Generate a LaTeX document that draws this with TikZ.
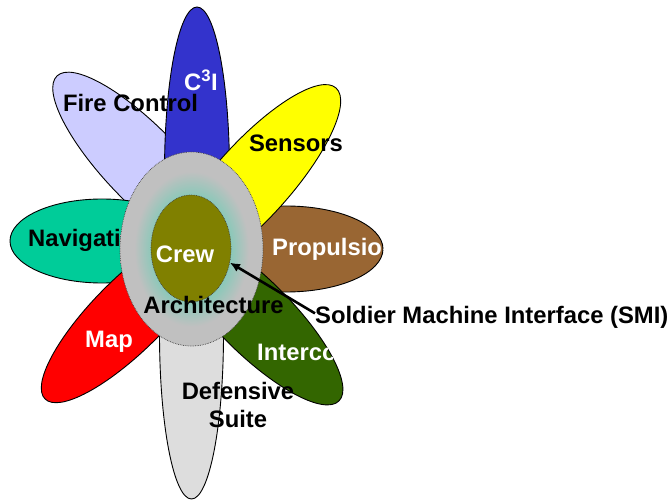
\documentclass[tikz,border=0pt]{standalone}
\usepackage{fontspec}
\setmainfont{Liberation Sans}
\usetikzlibrary{shapes.geometric,arrows.meta}
\definecolor{lav}{HTML}{CCCCFF}
\definecolor{cblue}{HTML}{3333CC}
\definecolor{cyel}{HTML}{FFFF00}
\definecolor{cbrown}{HTML}{996633}
\definecolor{cnav}{HTML}{00CC99}
\definecolor{cred}{HTML}{FF0000}
\definecolor{cdef}{HTML}{DDDDDD}
\definecolor{cint}{HTML}{336600}
\definecolor{crewc}{HTML}{808000}
\definecolor{glow}{RGB}{140,200,185}
\definecolor{ringgray}{RGB}{192,192,192}
\pgfdeclareradialshading{ringshade}{\pgfpoint{0bp}{0bp}}{color(0bp)=(glow); color(14bp)=(glow); color(20bp)=(ringgray); color(50bp)=(ringgray)}
\tikzset{
  petal/.style={ellipse, draw=black, line width=0.9pt, inner sep=0pt, outer sep=0pt},
  lab/.style={font=\fontsize{23.8}{28}\selectfont\bfseries, inner sep=0pt, text=black},
  wlab/.style={lab, text=white},
  dotline/.style={draw=black!75, densely dotted, line width=0.7pt},
}
\begin{document}
\begin{tikzpicture}[x=1pt,y=-1pt]
\useasboundingbox (0,0) rectangle (671,502);
% petals
\node[petal, fill=lav, minimum width=250pt, minimum height=76pt, rotate=-46] (fire) at (143.8,165.9) {};
\node[petal, fill=cblue, minimum width=65pt, minimum height=330pt] (c3i) at (197,172) {};
\node[petal, fill=cbrown, minimum width=194pt, minimum height=86pt] (prop) at (286,249) {};
\node[petal, fill=cyel, minimum width=250pt, minimum height=76pt, rotate=48] (sens) at (252.4,180.9) {};
\node[petal, fill=cnav, minimum width=184pt, minimum height=84pt] (nav) at (102,241) {};
\node[petal, fill=cred, minimum width=240pt, minimum height=72pt, rotate=45] (map) at (129.9,314.1) {};
\node[petal, fill=cdef, minimum width=64pt, minimum height=330pt] (def) at (191.5,334) {};
\node[petal, fill=cint, minimum width=240pt, minimum height=74pt, rotate=-45] (ic) at (254.1,316.1) {};
% petal labels
\node[lab, anchor=base] (firelab) at (130.5,112) {Fire Control};
\node[wlab, anchor=base] (c3ilab) at (201,91) {C\textsuperscript{3}I};
\node[lab, anchor=base] (senslab) at (296,152) {Sensors};
\node[lab, anchor=base west] (navlab) at (28,247) {Navigation};
\begin{scope}
  \clip (prop.center) ellipse [x radius=97pt, y radius=43pt];
  \node[wlab, anchor=base west] (proplab) at (272,255.5) {Propulsion};
\end{scope}
\begin{scope}
  \clip[shift={(ic.center)}, rotate=-45] (0,0) ellipse [x radius=120pt, y radius=37pt];
  \node[wlab, anchor=base west] (iclab) at (257,360) {Intercom};
\end{scope}
\node[wlab, anchor=base] (maplab) at (109,347) {Map};
\node[lab, align=center] (deflab) at (238,405.3) {Defensive\\Suite};
% centre
\node[ellipse, minimum width=143pt, minimum height=194pt, inner sep=0pt, shade, shading=ringshade, dotline] (ring) at (191.5,249) {};
\node[ellipse, minimum width=80pt, minimum height=107pt, inner sep=0pt, fill=crewc, dotline] (crew) at (191,248.5) {};
\node[wlab, anchor=base] (crewlab) at (185,262) {Crew};
\node[lab, anchor=base] (archlab) at (213.5,313) {Architecture};
\node[lab, anchor=base west] (smi) at (315,323.5) {Soldier Machine Interface (SMI)};
\draw[line width=2.6pt, -{Latex[length=10pt,width=9pt]}] ([yshift=4pt]smi.west) -- (crew.-20);
\end{tikzpicture}
\end{document}
